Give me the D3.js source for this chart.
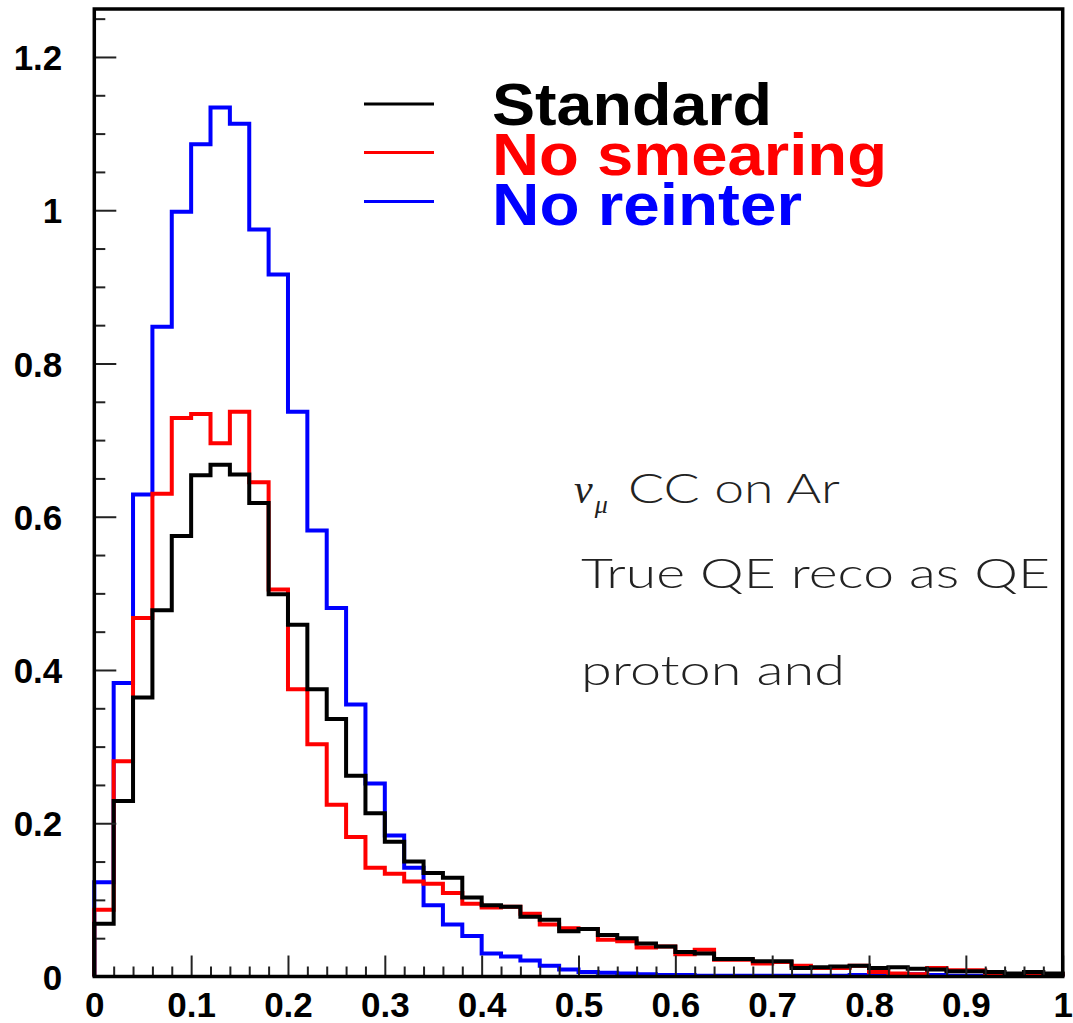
<!DOCTYPE html>
<html lang="en">
<head>
  <meta charset="UTF-8">
  <title>Histogram comparison</title>
  <script src="https://d3js.org/d3.v7.min.js"></script>
  <style>
    body { margin: 0; padding: 0; background: #fff; }
    svg { display: block; }
    .ticklab { font-family: "Liberation Sans", Arial, sans-serif; font-weight: bold; font-size: 35px; fill: #000; }
    .leg { font-family: "Liberation Sans", Arial, sans-serif; font-weight: bold; font-size: 60px; }
    .note { font-family: Lato, "Open Sans", sans-serif; font-weight: 300; font-size: 42px; fill: #222; }
  </style>
</head>
<body>
<div id="chart"></div>
<script>
  const width = 1073;
  const height = 1023;

  // 50 bins of width 0.02 between 0 and 1
  const binEdges = d3.range(0, 50).map(i => i * 0.02);

  const standard = [
    0.069, 0.229, 0.364, 0.478, 0.575, 0.654, 0.668, 0.655, 0.618, 0.499,
    0.459, 0.375, 0.336, 0.262, 0.213, 0.176, 0.150, 0.135, 0.129, 0.103,
    0.093, 0.091, 0.078, 0.074, 0.059, 0.062, 0.054, 0.050, 0.043, 0.039,
    0.032, 0.030, 0.023, 0.023, 0.020, 0.020, 0.011, 0.012, 0.013, 0.014,
    0.011, 0.012, 0.010, 0.009, 0.007, 0.007, 0.006, 0.004, 0.006, 0.004
  ];
  const noSmearing = [
    0.087, 0.281, 0.468, 0.630, 0.729, 0.734, 0.696, 0.737, 0.645, 0.505,
    0.375, 0.303, 0.224, 0.182, 0.142, 0.134, 0.124, 0.121, 0.109, 0.095,
    0.090, 0.091, 0.082, 0.068, 0.063, 0.062, 0.048, 0.046, 0.038, 0.039,
    0.029, 0.035, 0.022, 0.022, 0.017, 0.019, 0.014, 0.011, 0.011, 0.014,
    0.006, 0.004, 0.003, 0.011, 0.008, 0.008, 0.002, 0.003, 0.002, 0.003
  ];
  const noReinter = [
    0.123, 0.383, 0.629, 0.848, 0.998, 1.086, 1.134, 1.113, 0.975, 0.916,
    0.737, 0.582, 0.481, 0.355, 0.252, 0.184, 0.142, 0.093, 0.068, 0.053,
    0.030, 0.026, 0.021, 0.014, 0.009, 0.006, 0.005, 0.004, 0.003, 0.002,
    0.002, 0.001, 0.001, 0.001, 0.001, 0.001, 0.001, 0.001, 0.001, 0.002,
    0.002, 0.003, 0.003, 0.002, 0.001, 0.001, 0.001, 0.001, 0.001, 0.001
  ];

  const xTicks = [0, 0.1, 0.2, 0.3, 0.4, 0.5, 0.6, 0.7, 0.8, 0.9, 1];
  const xTickLabels = ["0", "0.1", "0.2", "0.3", "0.4", "0.5", "0.6", "0.7", "0.8", "0.9", "1"];
  const yTicks = [0, 0.2, 0.4, 0.6, 0.8, 1, 1.2];
  const yTickLabels = ["0", "0.2", "0.4", "0.6", "0.8", "1", "1.2"];

  const seriesNames = ["Standard", "No smearing", "No reinter"];
  const seriesColors = ["#000000", "#ff0000", "#0000ff"];
  const noteLines = ["CC on Ar", "True QE reco as QE", "proton and"];

  const padL = 94.3, padR = 1062.7, padT = 9, padB = 976.5;

  const x = d3.scaleLinear().domain([0, 1]).range([padL, padR]);
  const y = d3.scaleLinear().domain([0, 1.2626]).range([padB, padT]);

  const svg = d3.select("#chart").append("svg")
    .attr("width", width)
    .attr("height", height);

  // histograms: blue first, then red, black on top
  const line = d3.line()
    .x(d => x(d[0]))
    .y(d => y(d[1]))
    .curve(d3.curveStepAfter);

  const series = [standard, noSmearing, noReinter];
  [2, 1, 0].forEach(si => {
    const vals = series[si];
    const pts = [[0, 0]].concat(binEdges.map((e, i) => [e, vals[i]]));
    pts.push([1, vals[vals.length - 1]]);
    pts.push([1, 0]);
    svg.append("path")
      .datum(pts)
      .attr("fill", "none")
      .attr("stroke", seriesColors[si])
      .attr("stroke-width", 4)
      .attr("d", line);
  });

  // minor ticks
  const xMinor = d3.range(0, 51).map(i => i * 0.02).filter(v => Math.abs(v * 10 - Math.round(v * 10)) > 1e-6);
  const yMinor = d3.range(0, 26).map(i => i * 0.05).filter(v => Math.abs(v * 5 - Math.round(v * 5)) > 1e-6);

  svg.append("g")
    .attr("transform", `translate(0,${padB})`)
    .call(d3.axisBottom(x).tickValues(xMinor).tickSize(-10).tickFormat(""))
    .call(g => g.select(".domain").remove())
    .call(g => g.selectAll("line").attr("stroke", "#222").attr("stroke-width", 2));

  svg.append("g")
    .attr("transform", `translate(${padL},0)`)
    .call(d3.axisLeft(y).tickValues(yMinor).tickSize(-11).tickFormat(""))
    .call(g => g.select(".domain").remove())
    .call(g => g.selectAll("line").attr("stroke", "#222").attr("stroke-width", 2));

  // major ticks and labels
  svg.append("g")
    .attr("transform", `translate(0,${padB})`)
    .call(d3.axisBottom(x).tickValues(xTicks).tickSize(-21).tickFormat((d, i) => xTickLabels[i]))
    .call(g => g.select(".domain").remove())
    .call(g => g.selectAll("line").attr("stroke", "#222").attr("stroke-width", 2))
    .call(g => g.selectAll("text").attr("class", "ticklab").attr("y", 40).attr("dy", 0));

  svg.append("g")
    .attr("transform", `translate(${padL},0)`)
    .call(d3.axisLeft(y).tickValues(yTicks).tickSize(-22).tickFormat((d, i) => yTickLabels[i]))
    .call(g => g.select(".domain").remove())
    .call(g => g.selectAll("line").attr("stroke", "#222").attr("stroke-width", 2))
    .call(g => g.selectAll("text").attr("class", "ticklab").attr("x", -32).attr("dy", "0.36em"));

  svg.selectAll(".tick text").attr("font-family", null).attr("font-size", null).attr("fill", null);
  svg.selectAll("g").attr("font-family", null).attr("font-size", null);

  // frame
  svg.append("rect")
    .attr("x", padL).attr("y", padT)
    .attr("width", padR - padL).attr("height", padB - padT)
    .attr("fill", "none").attr("stroke", "#000").attr("stroke-width", 3.5);

  // legend
  const legY = [104, 152.5, 201.5];
  const legBase = [125, 175, 225];
  const legWidth = [280, 395, 310];
  seriesNames.forEach((name, i) => {
    svg.append("line")
      .attr("x1", 364).attr("x2", 434)
      .attr("y1", legY[i]).attr("y2", legY[i])
      .attr("stroke", seriesColors[i]).attr("stroke-width", 3);
    svg.append("text")
      .attr("class", "leg")
      .attr("x", 492).attr("y", legBase[i])
      .attr("fill", seriesColors[i])
      .attr("textLength", legWidth[i])
      .attr("lengthAdjust", "spacingAndGlyphs")
      .text(name);
  });

  // annotation
  const n1 = svg.append("text").attr("class", "note").attr("x", 574).attr("y", 503);
  n1.append("tspan")
    .attr("font-family", "'Liberation Serif', serif").attr("font-style", "italic").attr("font-weight", "normal")
    .text("\u03bd");
  n1.append("tspan")
    .attr("font-family", "'Liberation Serif', serif").attr("font-style", "italic").attr("font-weight", "normal")
    .attr("font-size", 26).attr("dy", 10).attr("dx", 2)
    .text("\u03bc");
  n1.append("tspan").attr("x", 628).attr("dy", -10)
    .attr("textLength", 212).attr("lengthAdjust", "spacingAndGlyphs")
    .text(noteLines[0]);
  svg.append("text").attr("class", "note").attr("x", 581).attr("y", 588)
    .attr("textLength", 469).attr("lengthAdjust", "spacingAndGlyphs")
    .text(noteLines[1]);
  svg.append("text").attr("class", "note").attr("x", 581).attr("y", 685)
    .attr("textLength", 264).attr("lengthAdjust", "spacingAndGlyphs")
    .text(noteLines[2]);
</script>
</body>
</html>
